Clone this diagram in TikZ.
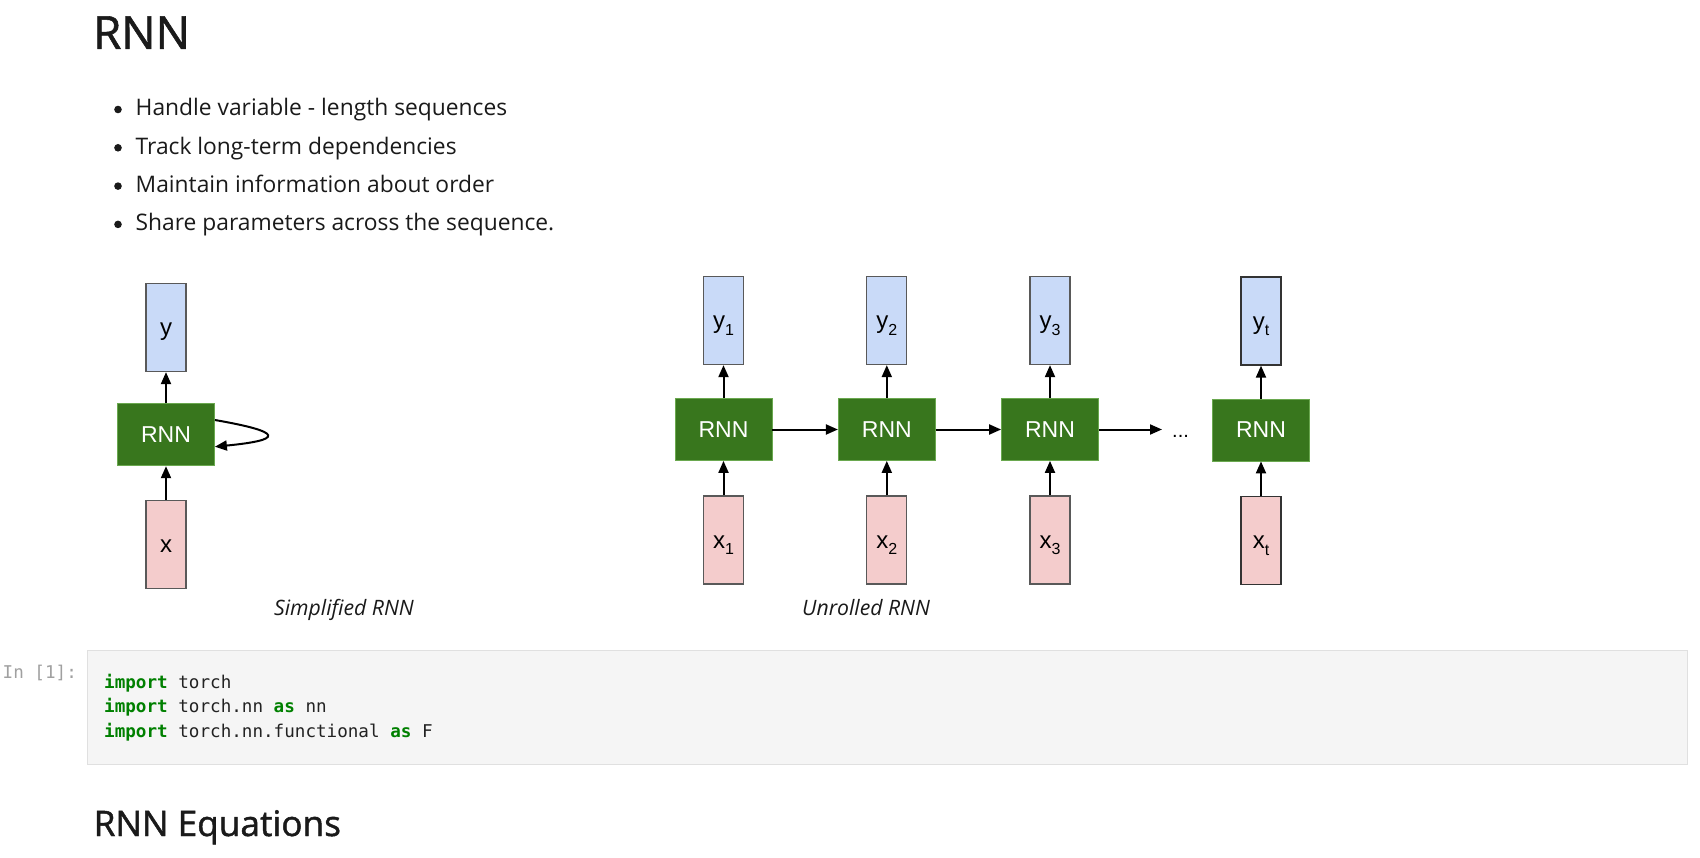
\documentclass[tikz,border=0pt]{standalone}
\usepackage{fontspec}
\setmainfont{Open Sans}
\newfontfamily\headf[FakeBold=1.3]{Open Sans}
\newfontfamily\arialf{Liberation Sans}
\newfontfamily\monof{DejaVu Sans Mono}
\usetikzlibrary{arrows.meta}
\definecolor{rnngreen}{HTML}{38761D}
\definecolor{rnnedge}{HTML}{6AA84F}
\definecolor{yfill}{HTML}{C9DAF8}
\definecolor{xfill}{HTML}{F4CCCC}
\definecolor{boxedge}{HTML}{595959}
\definecolor{codebg}{HTML}{F5F5F5}
\definecolor{codeframe}{HTML}{E0E0E0}
\definecolor{kwgreen}{HTML}{008000}
\definecolor{ink}{HTML}{1A1A1A}
\definecolor{codeink}{HTML}{222222}
\definecolor{promptgray}{HTML}{A0A0A0}
\newcommand{\lowsub}[1]{\raisebox{-6.5pt}{\fontsize{16}{16}\selectfont #1}}
\newcommand{\kw}[1]{\textcolor{kwgreen}{\bfseries #1}}
\begin{document}
\begin{tikzpicture}[x=1pt,y=-1pt,
  rnnbox/.style={draw=rnnedge, fill=rnngreen, line width=0.8pt, minimum width=97pt, minimum height=62pt, inner sep=0pt, text=white, font=\arialf\fontsize{23}{27}\selectfont},
  outbox/.style={draw=boxedge, fill=yfill, line width=1.3pt, minimum width=40pt, minimum height=88pt, inner sep=0pt, text height=17.5pt, text depth=1pt, font=\arialf\fontsize{24}{28}\selectfont},
  inbox/.style={outbox, fill=xfill},
  lastedge/.style={draw=black!80},
  flow/.style={line width=2pt, -{Triangle[length=12pt,width=10pt]}},
  heading/.style={anchor=base west, inner sep=0pt, text=ink},
  bullettext/.style={anchor=base west, inner sep=0pt, text=ink, font=\fontsize{22.8}{27}\selectfont},
  caption/.style={anchor=base west, inner sep=0pt, text=ink, font=\itshape\fontsize{21.2}{25}\selectfont},
  codeline/.style={anchor=base west, inner sep=0pt, text=codeink, font=\monof\fontsize{17.6}{22}\selectfont},
  codecell/.style={draw=codeframe, fill=codebg, line width=1pt, minimum width=1600pt, minimum height=114pt, inner sep=0pt}
]
\useasboundingbox (0,0) rectangle (1700,858);
\fill[white] (0,0) rectangle (1700,858);

% title
\node[heading, font=\headf\fontsize{45.5}{56}\selectfont] (title) at (93,48.8) {RNN};

% bullets
\foreach \yb/\txt [count=\i] in {116/{Handle variable - length sequences},154.3/{Track long-term dependencies},192.6/{Maintain information about order},230.9/{Share parameters across the sequence.}}{
  \fill[ink] (118,\yb-6.5) circle (3.8pt);
  \node[bullettext] (b\i) at (135.5,\yb) {\txt};
}

% simplified RNN
\node[outbox] (sy) at (166,327.5) {y};
\node[rnnbox] (srnn) at (166,434.8) {RNN};
\node[inbox] (sx) at (166,544.3) {x};
\draw[flow] (srnn.north) -- (sy.south);
\draw[flow] (sx.north) -- (srnn.south);
\draw[flow] ([yshift=14.8pt]srnn.east) .. controls (284,432) and (284,440) .. ([yshift=-11.9pt]srnn.east);
\node[caption] (cap1) at (274,615) {Simplified RNN};

% unrolled RNN
\node[outbox] (y1) at (723.5,320.5) {y\lowsub{1}};
\node[rnnbox] (r1) at (723.5,429.5) {RNN};
\node[inbox] (x1) at (723.5,540) {x\lowsub{1}};
\node[outbox] (y2) at (886.8,320.5) {y\lowsub{2}};
\node[rnnbox] (r2) at (886.8,429.5) {RNN};
\node[inbox] (x2) at (886.8,540) {x\lowsub{2}};
\node[outbox] (y3) at (1050,320.5) {y\lowsub{3}};
\node[rnnbox] (r3) at (1050,429.5) {RNN};
\node[inbox] (x3) at (1050,540) {x\lowsub{3}};
\node[outbox, lastedge] (yt) at (1261,321) {y\lowsub{t}};
\node[rnnbox] (rt) at (1261,430) {RNN};
\node[inbox, lastedge] (xt) at (1261,540.5) {x\lowsub{t}};
\foreach \c in {1,2,3,t}{
  \draw[flow] (r\c.north) -- (y\c.south);
  \draw[flow] (x\c.north) -- (r\c.south);
}
\draw[flow] (r1.east) -- (r2.west);
\draw[flow] (r2.east) -- (r3.west);
\coordinate (cend) at (1162,429.5);
\draw[flow] (r3.east) -- (cend);
\node[anchor=base west, inner sep=0pt, font=\arialf\fontsize{20}{24}\selectfont] (dots) at (1172,437) {...};
\node[caption] (cap2) at (802,615) {Unrolled RNN};

% code cell
\node[anchor=base west, inner sep=0pt, text=promptgray, font=\monof\fontsize{17.6}{22}\selectfont] (prompt) at (2.5,678.5) {In [1]:};
\node[codecell] (cell) at (887.9,707.5) {};
\node[codeline] (c1) at (104,688.5) {\kw{import} torch};
\node[codeline] (c2) at (104,712.8) {\kw{import} torch.nn \kw{as} nn};
\node[codeline] (c3) at (104,737.2) {\kw{import} torch.nn.functional \kw{as} F};

% second heading
\node[heading, font=\headf\fontsize{35.2}{44}\selectfont] (eqs) at (93.5,836) {RNN Equations};
\end{tikzpicture}
\end{document}
